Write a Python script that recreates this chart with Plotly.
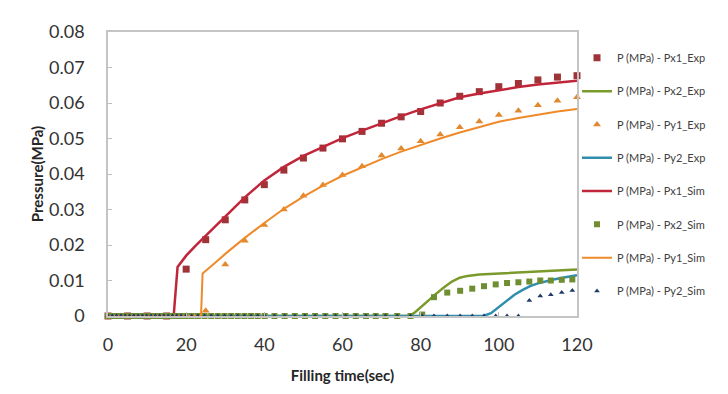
import plotly.graph_objects as go

# ---------------- data ----------------
t_exp = [0, 5, 10, 15, 20, 25, 30, 35, 40, 45, 50, 55, 60, 65, 70, 75, 80, 85, 90, 95, 100, 105, 110, 115, 120]
px1_exp = [0, 0, 0, 0, 0.0132, 0.0215, 0.0271, 0.0327, 0.0370, 0.0411, 0.0445, 0.0473, 0.0499, 0.0520,
           0.0543, 0.0561, 0.0576, 0.0600, 0.0619, 0.0632, 0.0646, 0.0655, 0.0665, 0.0673, 0.0677]
py1_exp = [0, 0, 0, 0, 0, 0.0015, 0.0145, 0.0212, 0.0256, 0.0300, 0.0339, 0.0369, 0.0397, 0.0422,
           0.0452, 0.0472, 0.0492, 0.0511, 0.0532, 0.0548, 0.0566, 0.0578, 0.0594, 0.0606, 0.0616]

t_px2_line = [0, 77, 78.5, 80, 82, 84, 86, 88, 90, 92, 95, 100, 105, 110, 115, 120]
px2_line = [0, 0, 0.0010, 0.0025, 0.0045, 0.0063, 0.0081, 0.0097, 0.0108, 0.0113, 0.0117, 0.0120,
            0.0123, 0.0126, 0.0129, 0.0131]

t_py2_line = [0, 96, 98, 100, 102, 104, 106, 108, 110, 112, 114, 117, 120]
py2_line = [0, 0, 0.0008, 0.0025, 0.0043, 0.0060, 0.0073, 0.0084, 0.0092, 0.0098, 0.0103, 0.0109, 0.0115]

t_px1_sim = [0, 16.8, 17.8, 20, 22.5, 25, 27.5, 30, 35, 40, 45, 50, 55, 60, 65, 70, 75, 80, 85, 90, 95,
             100, 105, 110, 115, 120]
px1_sim = [0, 0, 0.0138, 0.0170, 0.0199, 0.0226, 0.0254, 0.0281, 0.0334, 0.0382, 0.0420, 0.0451,
           0.0477, 0.0501, 0.0522, 0.0543, 0.0563, 0.0582, 0.0600, 0.0616, 0.0627, 0.0637, 0.0645,
           0.0652, 0.0658, 0.0663]

t_py1_sim = [0, 23.8, 24.2, 25, 27.5, 30, 35, 40, 45, 50, 55, 60, 65, 70, 75, 80, 85, 90, 95, 100, 105,
             110, 115, 120]
py1_sim = [0, 0, 0.0120, 0.0127, 0.0151, 0.0175, 0.0220, 0.0262, 0.0302, 0.0336, 0.0367, 0.0395,
           0.0419, 0.0442, 0.0463, 0.0482, 0.0500, 0.0517, 0.0533, 0.0547, 0.0558, 0.0568, 0.0576, 0.0583]

t_sim = [0, 1.1, 2.2, 3.3, 4.4, 5.5, 6.6, 7.7, 8.8, 9.9, 11, 12.1, 13.2, 14.3, 15.4, 16.5, 17.6, 18.7,
         19.9, 21.4, 23, 24.7, 26.4, 28.1, 29.8, 31.5, 33.2, 34.9, 36.6, 38.3, 40.1, 42.6, 45.2, 47.8,
         50.4, 53, 55.6, 58.2, 60.8, 63.4, 66, 68.5, 71, 74, 77.4, 80.4, 83.4, 86.8, 90.1, 93.2, 96.2,
         99.2, 102.1, 105, 107.8, 110.6, 113.3, 116.1, 118.8]
px2_sim = [0, 0, 0, 0, 0, 0, 0, 0, 0, 0, 0, 0, 0, 0, 0, 0, 0, 0, 0, 0, 0, 0, 0, 0, 0, 0, 0, 0, 0, 0,
           0, 0, 0, 0, 0, 0, 0, 0, 0, 0, 0, 0, 0, 0, 0, 0.0004, 0.0053, 0.0066, 0.0071, 0.0077, 0.0084,
           0.0089, 0.0093, 0.0095, 0.0097, 0.0100, 0.0100, 0.0102, 0.0103]
py2_sim = [0, 0, 0, 0, 0, 0, 0, 0, 0, 0, 0, 0, 0, 0, 0, 0, 0, 0, 0, 0, 0, 0, 0, 0, 0, 0, 0, 0, 0, 0,
           0, 0, 0, 0, 0, 0, 0, 0, 0, 0, 0, 0, 0, 0, 0, 0, 0, 0, 0, 0, 0, 0, 0, 0, 0.0044, 0.0056,
           0.0060, 0.0066, 0.0072]

x_ticks = [0, 20, 40, 60, 80, 100, 120]
y_ticks = [0, 0.01, 0.02, 0.03, 0.04, 0.05, 0.06, 0.07, 0.08]
y_tick_labels = ["0", "0.01", "0.02", "0.03", "0.04", "0.05", "0.06", "0.07", "0.08"]

# ---------------- figure ----------------
RED_M = "#9E3438"
RED_L = "#C0263A"
GREEN_L = "#7A9A2C"
GREEN_M = "#6F8E32"
ORANGE_M = "#E0892E"
ORANGE_L = "#EE8A2A"
TEAL_L = "#2F8DAE"
NAVY_M = "#1F3A66"

fig = go.Figure()
fig.add_trace(go.Scatter(x=t_exp, y=px1_exp, mode="markers", name="P (MPa) - Px1_Exp",
                         marker=dict(symbol="square", size=7, color=RED_M), cliponaxis=False,
                         legendgroup="a"))
fig.add_trace(go.Scatter(x=t_px2_line, y=px2_line, mode="lines", name="P (MPa) - Px2_Exp",
                         line=dict(color=GREEN_L, width=2.5), cliponaxis=False, legendgroup="b"))
fig.add_trace(go.Scatter(x=t_exp, y=py1_exp, mode="markers", name="P (MPa) - Py1_Exp",
                         marker=dict(symbol="triangle-up", size=7, color=ORANGE_M), cliponaxis=False,
                         legendgroup="c"))
fig.add_trace(go.Scatter(x=t_py2_line, y=py2_line, mode="lines", name="P (MPa) - Py2_Exp",
                         line=dict(color=TEAL_L, width=2.5), cliponaxis=False, legendgroup="d"))
fig.add_trace(go.Scatter(x=t_px1_sim, y=px1_sim, mode="lines", name="P (MPa) - Px1_Sim",
                         line=dict(color=RED_L, width=2.5), cliponaxis=False, legendgroup="e"))
fig.add_trace(go.Scatter(x=t_sim, y=px2_sim, mode="markers", name="P (MPa) - Px2_Sim",
                         marker=dict(symbol="square", size=6, color=GREEN_M), cliponaxis=False,
                         legendgroup="f"))
fig.add_trace(go.Scatter(x=t_py1_sim, y=py1_sim, mode="lines", name="P (MPa) - Py1_Sim",
                         line=dict(color=ORANGE_L, width=2), cliponaxis=False, legendgroup="g"))
fig.add_trace(go.Scatter(x=t_sim, y=py2_sim, mode="markers", name="P (MPa) - Py2_Sim",
                         marker=dict(symbol="triangle-up", size=5, color=NAVY_M), cliponaxis=False,
                         legendgroup="h"))

FONT = "Lato, 'Open Sans', sans-serif"
fig.update_layout(
    width=720, height=386,
    margin=dict(l=100, r=151, t=17, b=71),
    paper_bgcolor="white", plot_bgcolor="white",
    font=dict(family=FONT, color="#404040"),
    showlegend=True,
    legend=dict(x=1.0, xanchor="left", y=0.96, yanchor="top",
                font=dict(size=11, color="#404040", family=FONT),
                tracegroupgap=14.3, traceorder="grouped",
                bgcolor="rgba(0,0,0,0)", itemwidth=30),
    xaxis=dict(range=[0, 120], tickvals=x_ticks, ticks="inside", ticklen=4, tickcolor="#BFBFBF",
               showline=True, linecolor="#C4C4C4", linewidth=1.5, mirror=True,
               showgrid=False, zeroline=False,
               tickfont=dict(size=18, color="#333333", family=FONT), ticklabelstandoff=12,
               title=dict(text="<b>Filling time(sec)</b>", standoff=16,
                          font=dict(size=15, color="#262626", family=FONT))),
    yaxis=dict(range=[0, 0.08], tickvals=y_ticks, ticktext=y_tick_labels, ticks="inside", ticklen=4,
               tickcolor="#BFBFBF", showline=True, linecolor="#C4C4C4", linewidth=1.5, mirror=True,
               showgrid=False, zeroline=False,
               tickfont=dict(size=18, color="#333333", family=FONT), ticklabelstandoff=18,
               title=dict(text="<b>Pressure(MPa)</b>", standoff=2,
                          font=dict(size=15, color="#262626", family=FONT))),
)

fig.write_html("out.html")
